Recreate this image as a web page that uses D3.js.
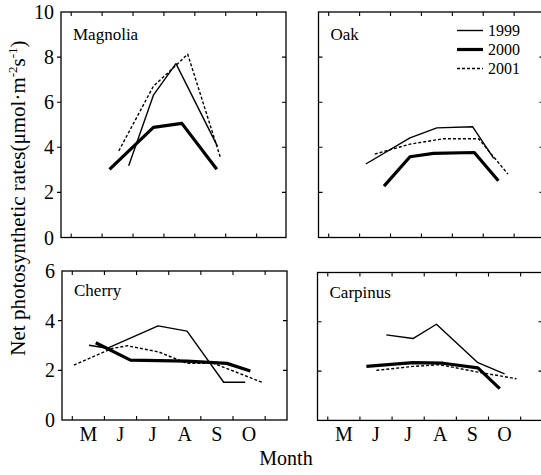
<!DOCTYPE html>
<html>
<head>
<meta charset="utf-8">
<script src="https://d3js.org/d3.v7.min.js"></script>
<style>
  body { margin: 0; background: #fff; }
  #chart text { font-family: "Times New Roman", "Liberation Serif", serif !important; }
</style>
</head>
<body>
<svg id="chart" width="541" height="475"></svg>
<script>
const width = 541, height = 475;

// month index: 5 = start of May ... 11 = start of Nov
const monthLabels = ["M", "J", "J", "A", "S", "O"];
const monthTicks = [5, 6, 7, 8, 9, 10, 11];
const years = ["1999", "2000", "2001"];

// [month, rate]
const magnolia1999 = [[6.86, 3.18], [7.66, 6.31], [8.39, 7.71], [9.73, 4.05]];
const magnolia2000 = [[6.24, 3.02], [7.66, 4.88], [8.58, 5.06], [9.71, 3.03]];
const magnolia2001 = [[6.54, 3.84], [7.66, 6.71], [8.2, 7.39], [8.77, 8.13], [9.82, 3.58]];

const oak1999 = [[6.2, 3.26], [7.63, 4.42], [8.5, 4.86], [9.66, 4.91], [10.34, 3.51]];
const oak2000 = [[6.79, 2.28], [7.63, 3.58], [8.39, 3.73], [9.71, 3.77], [10.49, 2.52]];
const oak2001 = [[6.49, 3.7], [7.63, 4.14], [8.71, 4.38], [9.85, 4.38], [10.8, 2.81]];

const cherry1999 = [[5.52, 3.01], [6.1, 2.89], [7.67, 3.79], [8.57, 3.58], [9.71, 1.52], [10.38, 1.52]];
const cherry2000 = [[5.73, 3.11], [6.81, 2.41], [8.57, 2.37], [9.81, 2.28], [10.54, 1.97]];
const cherry2001 = [[5.05, 2.21], [6.24, 2.88], [6.71, 2.99], [7.69, 2.74], [8.57, 2.28], [9.4, 2.28], [10.9, 1.52]];

const carpinus1999 = [[6.82, 3.47], [7.65, 3.32], [8.38, 3.9], [9.67, 2.34], [10.5, 1.89]];
const carpinus2000 = [[6.2, 2.19], [7.65, 2.34], [8.58, 2.32], [9.67, 2.13], [10.35, 1.29]];
const carpinus2001 = [[6.51, 2.03], [7.65, 2.19], [8.48, 2.26], [9.67, 1.96], [10.87, 1.69]];

const yTicksTop = [0, 2, 4, 6, 8, 10];
const yTicksBottom = [0, 2, 4, 6];

const lineStyle = {
    "1999": { w: 1.4, dash: null },
    "2000": { w: 3.2, dash: null },
    "2001": { w: 1.4, dash: "3,2" }
};

const panels = [
    { name: "Magnolia", x0: 61, x1: 286, y0: 12, y1: 237.5, xd: [4.67, 11.95], yd: [0, 10], yt: yTicksTop, left: true, bottom: false, series: [magnolia1999, magnolia2000, magnolia2001] },
    { name: "Oak", x0: 318.5, x1: 543.5, y0: 12, y1: 237.5, xd: [4.67, 11.95], yd: [0, 10], yt: yTicksTop, left: false, bottom: false, series: [oak1999, oak2000, oak2001], legend: true },
    { name: "Cherry", x0: 62, x1: 287, y0: 271, y1: 420, xd: [4.68, 11.68], yd: [0, 6], yt: yTicksBottom, left: true, bottom: true, series: [cherry1999, cherry2000, cherry2001] },
    { name: "Carpinus", x0: 317.5, x1: 542.5, y0: 272.5, y1: 420.4, xd: [4.68, 11.68], yd: [0, 6], yt: yTicksBottom, left: false, bottom: true, series: [carpinus1999, carpinus2000, carpinus2001] }
];

const svg = d3.select("#chart");
const tickLen = 4;

panels.forEach(p => {
    const x = d3.scaleLinear().domain(p.xd).range([p.x0, p.x1]);
    const y = d3.scaleLinear().domain(p.yd).range([p.y1, p.y0]);
    const g = svg.append("g");

    // frame
    g.append("rect")
        .attr("x", p.x0).attr("y", p.y0)
        .attr("width", p.x1 - p.x0).attr("height", p.y1 - p.y0)
        .attr("fill", "none").attr("stroke", "#000").attr("stroke-width", 1.3);

    // x ticks, top and bottom, inward
    g.selectAll(".xt").data(monthTicks).enter().append("path")
        .attr("d", d => `M${x(d)},${p.y1}V${p.y1 - tickLen}M${x(d)},${p.y0}V${p.y0 + tickLen}`)
        .attr("stroke", "#000").attr("stroke-width", 1.1);

    // y ticks
    const inner = p.yt.filter(d => d !== p.yd[0] && d !== p.yd[1]);
    g.selectAll(".yt").data(inner).enter().append("path")
        .attr("d", d => p.left
            ? `M${p.x0},${y(d)}H${p.x0 - tickLen}M${p.x1},${y(d)}H${p.x1 - tickLen}`
            : `M${p.x0},${y(d)}H${p.x0 + tickLen}M${p.x1},${y(d)}H${p.x1 - tickLen}`)
        .attr("stroke", "#000").attr("stroke-width", 1.1);

    if (p.left) {
        g.selectAll(".yl").data(p.yt).enter().append("text")
            .attr("x", p.x0 - 7).attr("y", d => y(d)).attr("dy", "0.35em")
            .attr("text-anchor", "end")
            .attr("font-size", 20)
            .text(d => d);
    }

    if (p.bottom) {
        g.selectAll(".ml").data(monthLabels).enter().append("text")
            .attr("x", (d, i) => x(monthTicks[i] + 0.5)).attr("y", 441)
            .attr("text-anchor", "middle")
            .attr("font-size", 20)
            .text(d => d);
    }

    g.append("text")
        .attr("x", p.x0 + 12).attr("y", p.bottom ? p.y0 + 25 : p.y0 + 28)
        .attr("font-size", 17)
        .text(p.name);

    const line = d3.line().x(d => x(d[0])).y(d => y(d[1]));
    p.series.forEach((s, i) => {
        const st = lineStyle[years[i]];
        g.append("path")
            .datum(s)
            .attr("d", line)
            .attr("fill", "none").attr("stroke", "#000")
            .attr("stroke-width", st.w)
            .attr("stroke-linejoin", "round")
            .attr("stroke-dasharray", st.dash);
    });

    if (p.legend) {
        years.forEach((yr, i) => {
            const st = lineStyle[yr];
            const ly = 30.5 + i * 19;
            g.append("line")
                .attr("x1", 457).attr("x2", 483).attr("y1", ly).attr("y2", ly)
                .attr("stroke", "#000").attr("stroke-width", st.w)
                .attr("stroke-dasharray", st.dash);
            g.append("text")
                .attr("x", 488).attr("y", ly).attr("dy", "0.35em")
                .attr("font-size", 16)
                .text(yr);
        });
    }
});

// axis titles
svg.append("text")
    .attr("x", 286).attr("y", 465)
    .attr("text-anchor", "middle")
    .attr("font-size", 20)
    .text("Month");

const yTitle = svg.append("text")
    .attr("transform", "translate(25,198) rotate(-90)")
    .attr("text-anchor", "middle")
    .attr("font-size", 21);
yTitle.append("tspan").text("Net photosynthetic rates(μmol·m");
yTitle.append("tspan").attr("font-size", 13).attr("dy", -8).text("-2");
yTitle.append("tspan").attr("dy", 8).text("s");
yTitle.append("tspan").attr("font-size", 13).attr("dy", -8).text("-1");
yTitle.append("tspan").attr("dy", 8).text(")");
</script>
</body>
</html>
